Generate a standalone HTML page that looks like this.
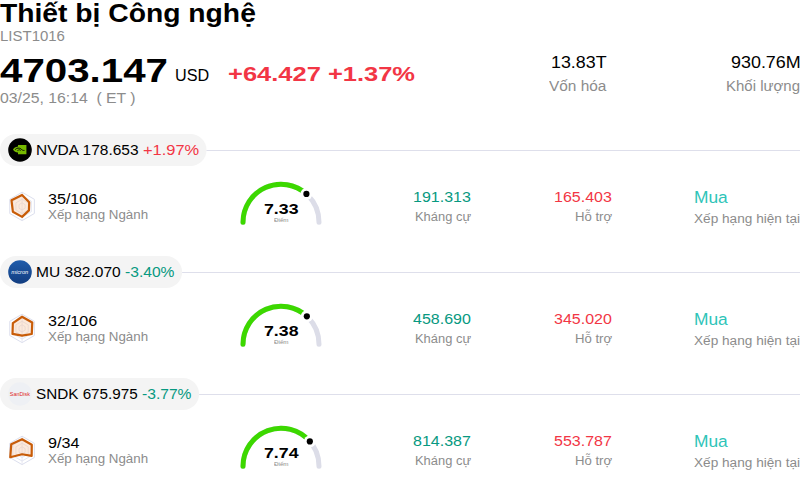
<!DOCTYPE html>
<html><head><meta charset="utf-8"><style>
html,body{margin:0;padding:0;background:#fff;width:800px;height:488px;overflow:hidden;position:relative}
.t{position:absolute;white-space:pre;transform-origin:0 0;font-family:"Liberation Sans",sans-serif}
.pill{position:absolute;left:0;height:32px;border-radius:16px;background:#f4f4f4}
.line{position:absolute;right:0;height:1px;background:#e2e2ec}
.logo{position:absolute;left:8px;width:24px;height:24px;border-radius:50%}
.nvda{background:#000}
.mu{background:#1d4f95}
.sndk{background:#eff1f4}
svg{position:absolute;left:0;top:0}
</style></head><body>
<svg width="800" height="488" viewBox="0 0 800 488">
<rect x="0" y="134" width="206.5" height="32" rx="16" fill="#f4f4f4"/>
<rect x="206.5" y="150" width="593.5" height="1" fill="#dedfeb"/>
<rect x="0" y="256" width="182.1" height="32" rx="16" fill="#f4f4f4"/>
<rect x="182.1" y="272" width="617.9" height="1" fill="#dedfeb"/>
<rect x="0" y="378" width="199.1" height="32" rx="16" fill="#f4f4f4"/>
<rect x="199.1" y="394" width="600.9" height="1" fill="#dedfeb"/>
<circle cx="20" cy="150" r="11.8" fill="#000"/>
<path d="M18,145 L26.4,145 L26.4,154.2 L18,154.2 L18,152.5 C15.5,152.5 13.5,151 13,149.6 C13.8,148 15.5,147 18,146.6 Z" fill="#76b900"/>
<path d="M15.2,149.6 C16.5,147.8 19.5,147.6 21,149 C22,150 23,150.6 24.5,150.4" stroke="#000" stroke-width="0.9" fill="none"/>
<path d="M17.5,150.8 C18.5,149.3 20,149.5 20.6,150.6" stroke="#000" stroke-width="0.8" fill="none"/>
<path d="M243,222.2 A38,38 0 0 1 319,222.2" stroke="#dcdde8" stroke-width="5" fill="none" stroke-linecap="round"/>
<path d="M243,222.2 A38,38 0 0 1 306.40,193.93" stroke="#3cd800" stroke-width="5" fill="none" stroke-linecap="round"/>
<circle cx="306.40" cy="193.93" r="6" fill="#fff"/><circle cx="306.40" cy="193.93" r="3.1" fill="#000"/>
<polygon points="22.07,192.20 34.37,199.30 34.37,213.50 22.07,220.60 9.77,213.50 9.77,199.30" fill="none" stroke="#dcdfee" stroke-width="1"/>
<polygon points="22.07,195.75 31.29,201.08 31.29,211.72 22.07,217.05 12.85,211.72 12.85,201.08" fill="none" stroke="#dcdfee" stroke-width="0.8"/>
<polygon points="22.07,199.30 28.22,202.85 28.22,209.95 22.07,213.50 15.92,209.95 15.92,202.85" fill="none" stroke="#dcdfee" stroke-width="0.8"/>
<polygon points="22.07,202.85 25.14,204.62 25.14,208.18 22.07,209.95 19.00,208.18 19.00,204.62" fill="none" stroke="#dcdfee" stroke-width="0.8"/>
<line x1="22.07" y1="206.4" x2="22.07" y2="192.20" stroke="#e2e2ee" stroke-width="0.8"/>
<line x1="22.07" y1="206.4" x2="22.07" y2="220.60" stroke="#e2e2ee" stroke-width="0.8"/>
<polygon points="22.07,194.90 29.20,202.28 28.96,210.38 22.07,216.91 12.85,211.72 11.49,200.29" fill="#f8c9a6" fill-opacity="0.4" stroke="#c85c08" stroke-width="2.2" stroke-linejoin="round"/>
<defs><linearGradient id="mug" x1="0" y1="0" x2="0" y2="1"><stop offset="0" stop-color="#1f5cab"/><stop offset="1" stop-color="#123d80"/></linearGradient></defs>
<circle cx="20" cy="272" r="11.8" fill="url(#mug)"/>
<text x="11.2" y="274.2" font-family="Liberation Sans" font-size="6" fill="#fff" textLength="17" lengthAdjust="spacingAndGlyphs" font-style="italic">micron</text>
<path d="M243,344.2 A38,38 0 0 1 319,344.2" stroke="#dcdde8" stroke-width="5" fill="none" stroke-linecap="round"/>
<path d="M243,344.2 A38,38 0 0 1 306.84,316.34" stroke="#3cd800" stroke-width="5" fill="none" stroke-linecap="round"/>
<circle cx="306.84" cy="316.34" r="6" fill="#fff"/><circle cx="306.84" cy="316.34" r="3.1" fill="#000"/>
<polygon points="22.07,314.20 34.37,321.30 34.37,335.50 22.07,342.60 9.77,335.50 9.77,321.30" fill="none" stroke="#dcdfee" stroke-width="1"/>
<polygon points="22.07,317.75 31.29,323.07 31.29,333.72 22.07,339.05 12.85,333.72 12.85,323.07" fill="none" stroke="#dcdfee" stroke-width="0.8"/>
<polygon points="22.07,321.30 28.22,324.85 28.22,331.95 22.07,335.50 15.92,331.95 15.92,324.85" fill="none" stroke="#dcdfee" stroke-width="0.8"/>
<polygon points="22.07,324.85 25.14,326.62 25.14,330.17 22.07,331.95 19.00,330.17 19.00,326.62" fill="none" stroke="#dcdfee" stroke-width="0.8"/>
<line x1="22.07" y1="328.4" x2="22.07" y2="314.20" stroke="#e2e2ee" stroke-width="0.8"/>
<line x1="22.07" y1="328.4" x2="22.07" y2="342.60" stroke="#e2e2ee" stroke-width="0.8"/>
<polygon points="22.07,316.76 32.28,322.51 31.79,334.01 22.07,335.64 12.48,333.94 12.85,323.07" fill="#f8c9a6" fill-opacity="0.4" stroke="#c85c08" stroke-width="2.2" stroke-linejoin="round"/>
<circle cx="20" cy="394" r="11.8" fill="#eef0f4"/>
<text x="9.8" y="395.7" font-family="Liberation Sans" font-size="4.6" fill="#e02828" textLength="20.2" lengthAdjust="spacingAndGlyphs">SanDisk</text>
<path d="M243,466.2 A38,38 0 0 1 319,466.2" stroke="#dcdde8" stroke-width="5" fill="none" stroke-linecap="round"/>
<path d="M243,466.2 A38,38 0 0 1 309.82,441.43" stroke="#3cd800" stroke-width="5" fill="none" stroke-linecap="round"/>
<circle cx="309.82" cy="441.43" r="6" fill="#fff"/><circle cx="309.82" cy="441.43" r="3.1" fill="#000"/>
<polygon points="22.07,436.20 34.37,443.30 34.37,457.50 22.07,464.60 9.77,457.50 9.77,443.30" fill="none" stroke="#dcdfee" stroke-width="1"/>
<polygon points="22.07,439.75 31.29,445.07 31.29,455.72 22.07,461.05 12.85,455.72 12.85,445.07" fill="none" stroke="#dcdfee" stroke-width="0.8"/>
<polygon points="22.07,443.30 28.22,446.85 28.22,453.95 22.07,457.50 15.92,453.95 15.92,446.85" fill="none" stroke="#dcdfee" stroke-width="0.8"/>
<polygon points="22.07,446.85 25.14,448.62 25.14,452.17 22.07,453.95 19.00,452.17 19.00,448.62" fill="none" stroke="#dcdfee" stroke-width="0.8"/>
<line x1="22.07" y1="450.4" x2="22.07" y2="436.20" stroke="#e2e2ee" stroke-width="0.8"/>
<line x1="22.07" y1="450.4" x2="22.07" y2="464.60" stroke="#e2e2ee" stroke-width="0.8"/>
<polygon points="22.07,439.18 31.79,444.79 31.66,455.94 22.07,454.23 10.26,457.22 11.25,444.15" fill="#f8c9a6" fill-opacity="0.4" stroke="#c85c08" stroke-width="2.2" stroke-linejoin="round"/>
</svg>
<div class="t" style="left:0.00px;top:0.87px;font-size:24.96px;line-height:24.96px;transform:scaleX(1.1324);font-weight:bold;color:#000;">Thiết bị Công nghệ</div>
<div class="t" style="left:0.00px;top:28.67px;font-size:14.56px;line-height:14.56px;transform:scaleX(1.0296);font-weight:normal;color:#8c8c8c;">LIST1016</div>
<div class="t" style="left:0.00px;top:53.83px;font-size:33.28px;line-height:33.28px;transform:scaleX(1.2105);font-weight:bold;color:#000;">4703.147</div>
<div class="t" style="left:175.00px;top:67.91px;font-size:16.64px;line-height:16.64px;transform:scaleX(0.9732);font-weight:normal;color:#000;">USD</div>
<div class="t" style="left:227.50px;top:64.39px;font-size:20.80px;line-height:20.80px;transform:scaleX(1.2251);font-weight:bold;color:#f23645;">+64.427 +1.37%</div>
<div class="t" style="left:0.00px;top:90.67px;font-size:14.56px;line-height:14.56px;transform:scaleX(1.0842);font-weight:normal;color:#8c8c8c;">03/25, 16:14  ( ET )</div>
<div class="t" style="left:551.42px;top:54.91px;font-size:16.64px;line-height:16.64px;transform:scaleX(1.0729);font-weight:normal;color:#000;">13.83T</div>
<div class="t" style="left:548.52px;top:78.67px;font-size:14.56px;line-height:14.56px;transform:scaleX(1.0598);font-weight:normal;color:#8c8c8c;">Vốn hóa</div>
<div class="t" style="left:731.21px;top:54.91px;font-size:16.64px;line-height:16.64px;transform:scaleX(1.0778);font-weight:normal;color:#000;">930.76M</div>
<div class="t" style="left:725.95px;top:78.67px;font-size:14.56px;line-height:14.56px;transform:scaleX(1.0298);font-weight:normal;color:#8c8c8c;">Khối lượng</div>
<div class="t" style="left:36.00px;top:142.67px;font-size:14.56px;line-height:14.56px;transform:scaleX(1.0657);font-weight:normal;color:#000;">NVDA 178.653 </div>
<div class="t" style="left:142.96px;top:142.67px;font-size:14.56px;line-height:14.56px;transform:scaleX(1.1290);font-weight:normal;color:#f23645;">+1.97%</div>
<div class="t" style="left:48.00px;top:191.67px;font-size:14.56px;line-height:14.56px;transform:scaleX(1.1061);font-weight:normal;color:#000;">35/106</div>
<div class="t" style="left:48.00px;top:208.94px;font-size:12.48px;line-height:12.48px;transform:scaleX(1.0695);font-weight:normal;color:#8c8c8c;">Xếp hạng Ngành</div>
<div class="t" style="left:412.60px;top:189.67px;font-size:14.56px;line-height:14.56px;transform:scaleX(1.1001);font-weight:normal;color:#089981;">191.313</div>
<div class="t" style="left:414.93px;top:210.94px;font-size:12.48px;line-height:12.48px;transform:scaleX(1.0355);font-weight:normal;color:#8c8c8c;">Kháng cự</div>
<div class="t" style="left:554.10px;top:189.67px;font-size:14.56px;line-height:14.56px;transform:scaleX(1.1001);font-weight:normal;color:#f23645;">165.403</div>
<div class="t" style="left:574.84px;top:210.94px;font-size:12.48px;line-height:12.48px;transform:scaleX(1.0549);font-weight:normal;color:#8c8c8c;">Hỗ trợ</div>
<div class="t" style="left:694.00px;top:189.71px;font-size:16.64px;line-height:16.64px;transform:scaleX(1.0427);font-weight:normal;color:#2ec4b8;">Mua</div>
<div class="t" style="left:694.00px;top:213.24px;font-size:12.48px;line-height:12.48px;transform:scaleX(1.0929);font-weight:normal;color:#8c8c8c;">Xếp hạng hiện tại</div>
<div class="t" style="left:263.73px;top:201.67px;font-size:14.56px;line-height:14.56px;transform:scaleX(1.2190);font-weight:bold;color:#000;">7.33</div>
<div class="t" style="left:273.73px;top:218.16px;font-size:5.72px;line-height:5.72px;transform:scaleX(1.0890);font-weight:normal;color:#8c8c8c;">Điểm</div>
<div class="t" style="left:36.00px;top:264.67px;font-size:14.56px;line-height:14.56px;transform:scaleX(1.0691);font-weight:normal;color:#000;">MU 382.070 </div>
<div class="t" style="left:125.12px;top:264.67px;font-size:14.56px;line-height:14.56px;transform:scaleX(1.0737);font-weight:normal;color:#089981;">-3.40%</div>
<div class="t" style="left:48.00px;top:313.67px;font-size:14.56px;line-height:14.56px;transform:scaleX(1.1061);font-weight:normal;color:#000;">32/106</div>
<div class="t" style="left:48.00px;top:330.94px;font-size:12.48px;line-height:12.48px;transform:scaleX(1.0695);font-weight:normal;color:#8c8c8c;">Xếp hạng Ngành</div>
<div class="t" style="left:412.60px;top:311.67px;font-size:14.56px;line-height:14.56px;transform:scaleX(1.1001);font-weight:normal;color:#089981;">458.690</div>
<div class="t" style="left:414.93px;top:332.94px;font-size:12.48px;line-height:12.48px;transform:scaleX(1.0355);font-weight:normal;color:#8c8c8c;">Kháng cự</div>
<div class="t" style="left:554.10px;top:311.67px;font-size:14.56px;line-height:14.56px;transform:scaleX(1.1001);font-weight:normal;color:#f23645;">345.020</div>
<div class="t" style="left:574.84px;top:332.94px;font-size:12.48px;line-height:12.48px;transform:scaleX(1.0549);font-weight:normal;color:#8c8c8c;">Hỗ trợ</div>
<div class="t" style="left:694.00px;top:311.71px;font-size:16.64px;line-height:16.64px;transform:scaleX(1.0427);font-weight:normal;color:#2ec4b8;">Mua</div>
<div class="t" style="left:694.00px;top:335.24px;font-size:12.48px;line-height:12.48px;transform:scaleX(1.0929);font-weight:normal;color:#8c8c8c;">Xếp hạng hiện tại</div>
<div class="t" style="left:263.73px;top:323.67px;font-size:14.56px;line-height:14.56px;transform:scaleX(1.2190);font-weight:bold;color:#000;">7.38</div>
<div class="t" style="left:273.73px;top:340.16px;font-size:5.72px;line-height:5.72px;transform:scaleX(1.0890);font-weight:normal;color:#8c8c8c;">Điểm</div>
<div class="t" style="left:36.00px;top:386.67px;font-size:14.56px;line-height:14.56px;transform:scaleX(1.0489);font-weight:normal;color:#000;">SNDK 675.975 </div>
<div class="t" style="left:142.12px;top:386.67px;font-size:14.56px;line-height:14.56px;transform:scaleX(1.0737);font-weight:normal;color:#089981;">-3.77%</div>
<div class="t" style="left:48.00px;top:435.67px;font-size:14.56px;line-height:14.56px;transform:scaleX(1.1096);font-weight:normal;color:#000;">9/34</div>
<div class="t" style="left:48.00px;top:452.94px;font-size:12.48px;line-height:12.48px;transform:scaleX(1.0695);font-weight:normal;color:#8c8c8c;">Xếp hạng Ngành</div>
<div class="t" style="left:412.60px;top:433.67px;font-size:14.56px;line-height:14.56px;transform:scaleX(1.1001);font-weight:normal;color:#089981;">814.387</div>
<div class="t" style="left:414.93px;top:454.94px;font-size:12.48px;line-height:12.48px;transform:scaleX(1.0355);font-weight:normal;color:#8c8c8c;">Kháng cự</div>
<div class="t" style="left:554.10px;top:433.67px;font-size:14.56px;line-height:14.56px;transform:scaleX(1.1001);font-weight:normal;color:#f23645;">553.787</div>
<div class="t" style="left:574.84px;top:454.94px;font-size:12.48px;line-height:12.48px;transform:scaleX(1.0549);font-weight:normal;color:#8c8c8c;">Hỗ trợ</div>
<div class="t" style="left:694.00px;top:433.71px;font-size:16.64px;line-height:16.64px;transform:scaleX(1.0427);font-weight:normal;color:#2ec4b8;">Mua</div>
<div class="t" style="left:694.00px;top:457.24px;font-size:12.48px;line-height:12.48px;transform:scaleX(1.0929);font-weight:normal;color:#8c8c8c;">Xếp hạng hiện tại</div>
<div class="t" style="left:263.73px;top:445.67px;font-size:14.56px;line-height:14.56px;transform:scaleX(1.2190);font-weight:bold;color:#000;">7.74</div>
<div class="t" style="left:273.73px;top:462.16px;font-size:5.72px;line-height:5.72px;transform:scaleX(1.0890);font-weight:normal;color:#8c8c8c;">Điểm</div>
</body></html>
